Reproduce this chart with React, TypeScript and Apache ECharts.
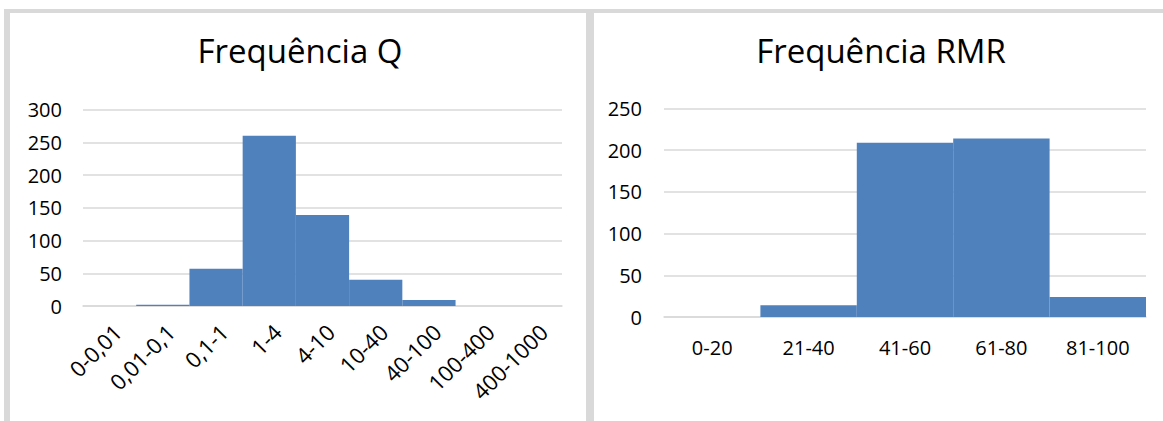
import React, { useEffect, useRef } from "react";
import * as echarts from "echarts";

const qCategories = ["0-0,01", "0,01-0,1", "0,1-1", "1-4", "4-10", "10-40", "40-100", "100-400", "400-1000"];
const qValues = [0, 2, 57, 260, 139, 40, 9, 0, 0];
const qTicks = { min: 0, max: 300, interval: 50 };

const rmrCategories = ["0-20", "21-40", "41-60", "61-80", "81-100"];
const rmrValues = [0, 14, 209, 214, 24];
const rmrTicks = { min: 0, max: 250, interval: 50 };

const FONT = "Open Sans";
const BAR = "#4F81BD";
const GRID = "#d9d9d9";

export default function App() {
  const ref = useRef<HTMLDivElement>(null);
  useEffect(() => {
    if (!ref.current) return;
    const chart = echarts.init(ref.current, undefined, { renderer: "svg" });
    const axisText = { color: "#000", fontFamily: FONT, fontSize: 20 };
    chart.setOption({
      animation: false,
      backgroundColor: "#fff",
      textStyle: { fontFamily: FONT },
      title: [
        {
          text: "Frequência Q",
          left: 295,
          top: 29,
          textAlign: "center",
          textStyle: { fontFamily: FONT, fontSize: 33, fontWeight: "normal", color: "#000" },
        },
        {
          text: "Frequência RMR",
          left: 876,
          top: 29,
          textAlign: "center",
          textStyle: { fontFamily: FONT, fontSize: 33, fontWeight: "normal", color: "#000" },
        },
      ],
      graphic: [
        { type: "rect", shape: { x: 4, y: 9, width: 1159, height: 4 }, style: { fill: GRID }, silent: true },
        { type: "rect", shape: { x: 4, y: 9, width: 6, height: 412 }, style: { fill: GRID }, silent: true },
        { type: "rect", shape: { x: 586, y: 9, width: 8, height: 412 }, style: { fill: GRID }, silent: true },
      ],
      grid: [
        { left: 83, top: 109.5, width: 479, height: 196.5 },
        { left: 664, top: 108.5, width: 482, height: 208.5 },
      ],
      xAxis: [
        {
          type: "category",
          gridIndex: 0,
          data: qCategories,
          axisLine: { show: true, lineStyle: { color: GRID, width: 1.5 } },
          axisTick: { show: false },
          axisLabel: { ...axisText, fontSize: 22, rotate: 45, margin: 14, interval: 0, verticalAlign: "top" },
        },
        {
          type: "category",
          gridIndex: 1,
          data: rmrCategories,
          axisLine: { show: true, lineStyle: { color: GRID, width: 1.5 } },
          axisTick: { show: false },
          axisLabel: { ...axisText, margin: 20, interval: 0 },
        },
      ],
      yAxis: [
        {
          type: "value",
          gridIndex: 0,
          ...qTicks,
          axisLine: { show: false },
          axisTick: { show: false },
          splitLine: { lineStyle: { color: GRID, width: 1.5 } },
          axisLabel: { ...axisText, margin: 21 },
        },
        {
          type: "value",
          gridIndex: 1,
          ...rmrTicks,
          axisLine: { show: false },
          axisTick: { show: false },
          splitLine: { lineStyle: { color: GRID, width: 1.5 } },
          axisLabel: { ...axisText, margin: 22 },
        },
      ],
      series: [
        {
          type: "bar",
          xAxisIndex: 0,
          yAxisIndex: 0,
          data: qValues,
          barWidth: "100%",
          barCategoryGap: "0%",
          itemStyle: { color: BAR },
        },
        {
          type: "bar",
          xAxisIndex: 1,
          yAxisIndex: 1,
          data: rmrValues,
          barWidth: "100%",
          barCategoryGap: "0%",
          itemStyle: { color: BAR },
        },
      ],
    });
    return () => chart.dispose();
  }, []);
  return (
    <div
      ref={ref}
      style={{ position: "fixed", left: 0, top: 0, width: 1163, height: 421 }}
    />
  );
}
